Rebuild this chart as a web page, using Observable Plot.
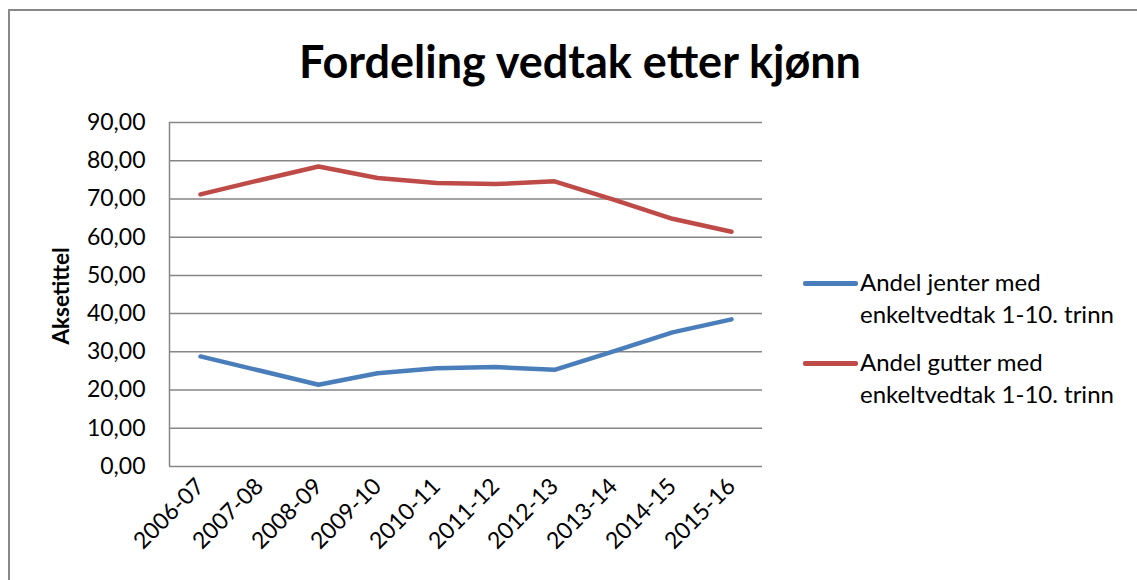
<!DOCTYPE html>
<html>
<head>
<meta charset="utf-8">
<script src="https://cdn.jsdelivr.net/npm/d3@7"></script>
<script src="https://cdn.jsdelivr.net/npm/@observablehq/plot@0.6"></script>
<style>
  body { margin: 0; background: #fff; }
  #wrap { position: relative; width: 1137px; height: 580px; overflow: hidden; background: #fff; font-family: Lato, "DejaVu Sans", sans-serif; }
  #border { position: absolute; left: 8px; top: 9px; right: -10px; bottom: -10px; border-top: 2px solid #888; border-left: 2px solid #888; }
  #title { position: absolute; left: 0; width: 1160px; top: 39px; text-align: center; font-weight: 700; font-size: 45px; color: #000; line-height: 1; }
  #ytitle { position: absolute; left: 60px; top: 296px; transform: translate(-50%, -50%) rotate(-90deg); font-weight: 700; font-size: 22.5px; white-space: nowrap; color: #000; }
  #legend { position: absolute; left: 803px; top: 266px; font-size: 24px; color: #000; }
  .item { position: relative; padding-left: 57px; line-height: 32px; margin-bottom: 16px; white-space: nowrap; }
  .swatch { position: absolute; left: 0; top: 15px; width: 55px; height: 4.5px; border-radius: 2px; }
  #chart { position: absolute; left: 0; top: 0; }
</style>
</head>
<body>
<div id="wrap">
  <div id="border"></div>
  <div id="title"></div>
  <div id="ytitle"></div>
  <div id="legend"></div>
  <div id="chart"></div>
</div>
<script>
const title = "Fordeling vedtak etter kjønn";
const yTitle = "Aksetittel";
const categories = ["2006-07","2007-08","2008-09","2009-10","2010-11","2011-12","2012-13","2013-14","2014-15","2015-16"];
const jenter = [28.8, 25.1, 21.4, 24.4, 25.7, 26.0, 25.3, 30.1, 35.1, 38.5];
const gutter = [71.2, 74.9, 78.5, 75.5, 74.2, 73.9, 74.6, 69.8, 64.8, 61.4];
const seriesNames = ["Andel jenter med\nenkeltvedtak 1-10. trinn", "Andel gutter med\nenkeltvedtak 1-10. trinn"];
const seriesColors = ["#4A7EBB", "#BE4B48"];
const yTicks = [0, 10, 20, 30, 40, 50, 60, 70, 80, 90];

const rows = [];
[jenter, gutter].forEach((vals, s) => {
  vals.forEach((v, i) => rows.push({ series: seriesNames[s], period: categories[i], value: v }));
});

document.getElementById("title").textContent = title;
document.getElementById("ytitle").textContent = yTitle;

const legend = document.getElementById("legend");
seriesNames.forEach((name, s) => {
  const item = document.createElement("div");
  item.className = "item";
  const sw = document.createElement("span");
  sw.className = "swatch";
  sw.style.background = seriesColors[s];
  item.appendChild(sw);
  name.split("\n").forEach((line, k) => {
    if (k) item.appendChild(document.createElement("br"));
    item.appendChild(document.createTextNode(line));
  });
  legend.appendChild(item);
});

const leftAxisLine = (index, scales, values, dimensions) => {
  const ns = "http://www.w3.org/2000/svg";
  const l = document.createElementNS(ns, "line");
  const x = dimensions.marginLeft + 0.5;
  l.setAttribute("x1", x); l.setAttribute("x2", x);
  l.setAttribute("y1", scales.y(yTicks[yTicks.length - 1]));
  l.setAttribute("y2", scales.y(yTicks[0]));
  l.setAttribute("stroke", "#868686");
  l.setAttribute("stroke-width", 1.5);
  return l;
};

const chart = Plot.plot({
  width: 1137,
  height: 580,
  marginLeft: 169,
  marginRight: 375,
  marginTop: 122,
  marginBottom: 114,
  style: { fontFamily: "Lato, 'DejaVu Sans', sans-serif", fontSize: "23px", color: "#000", background: "transparent", overflow: "visible" },
  x: { type: "point", domain: categories, padding: 0.5, align: 0.5, label: null, tickSize: 0, tickPadding: 16, tickRotate: -45 },
  y: { domain: [0, 90], ticks: yTicks, label: null, tickSize: 0, tickPadding: 24, tickFormat: d => d.toFixed(2).replace(".", ",") },
  color: { domain: seriesNames, range: seriesColors },
  marks: [
    Plot.ruleY(yTicks, { stroke: "#868686", strokeWidth: 1.5 }),
    leftAxisLine,
    Plot.lineY(rows, { x: "period", y: "value", z: "series", stroke: "series", strokeWidth: 4.5, strokeLinejoin: "round", strokeLinecap: "round" })
  ]
});
document.getElementById("chart").appendChild(chart);
</script>
</body>
</html>
